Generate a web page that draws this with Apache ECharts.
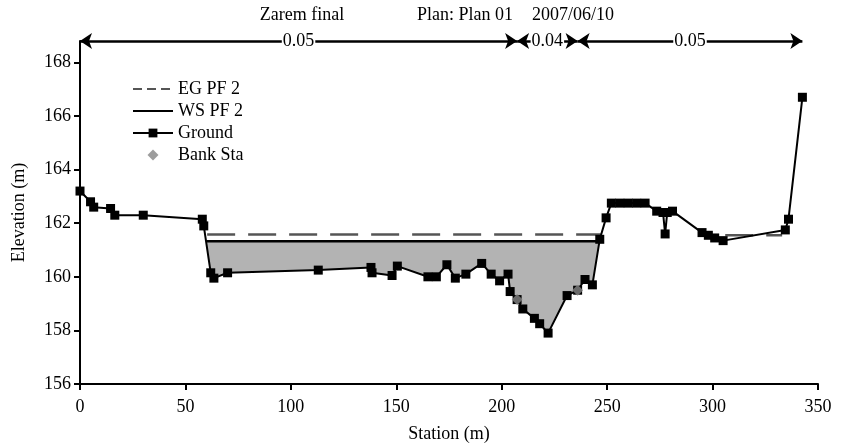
<!DOCTYPE html>
<html>
<head>
<meta charset="utf-8">
<script src="https://cdn.jsdelivr.net/npm/echarts@6/dist/echarts.min.js"></script>
<style>
html, body { margin: 0; padding: 0; background: #fff; }
#chart { width: 843px; height: 445px; }
</style>
</head>
<body>
<div id="chart"></div>
<script>
// ground profile (station m, elevation m)
var groundSta = [0, 5, 6.5, 14.5, 16.5, 30, 58, 58.7, 62, 63.5, 70, 113, 138, 138.5, 148, 150.5,
	165, 169, 174, 178, 183, 190.5, 195, 199, 203, 204, 207.3, 210, 215.5, 218, 222,
	231, 236, 239.5, 243, 246.5, 249.5, 252, 256, 260, 264, 268, 273.5, 276.5, 277.5, 278.5, 281,
	295, 298, 301, 305, 334.5, 336, 342.6];
var groundElev = [163.2, 162.8, 162.6, 162.55, 162.3, 162.3, 162.15, 161.9, 160.15, 159.95, 160.15, 160.25, 160.35, 160.15, 160.05, 160.4,
	160.0, 160.0, 160.45, 159.95, 160.1, 160.5, 160.1, 159.85, 160.1, 159.45, 159.15, 158.8, 158.45, 158.25, 157.9,
	159.3, 159.5, 159.9, 159.7, 161.4, 162.2, 162.75, 162.75, 162.75, 162.75, 162.75, 162.45, 162.4, 161.6, 162.4, 162.45,
	161.65, 161.55, 161.45, 161.35, 161.75, 162.15, 166.7];
// bank stations
var bankSta = [207.3, 236];
var bankElev = [159.15, 159.5];
// water surface / energy grade
var wsElev = 161.33;
var wsSta = [59.8, 246.3];
var egElev = 161.58;
var egSta = [60.3, 247];
var egSta2 = [306, 333];
var egElev2 = 161.55;
// manning's n
var nSta = [0, 207.3, 236, 342.6];
var nValues = ['0.05', '0.04', '0.05'];
var nElev = 168.8;
// axes
var xMin = 0, xMax = 350, xStep = 50;
var yMin = 156, yMax = 168.8, yStep = 2;

var FONT = 'Liberation Serif';

function pairs(a, b) {
	var out = [];
	for (var i = 0; i < a.length; i++) out.push([a[i], b[i]]);
	return out;
}

var ground = pairs(groundSta, groundElev);

// polygon of the wetted area: ground clipped at the water surface
function wetPolygon(api) {
	var pts = [[wsSta[0], wsElev]];
	for (var i = 0; i < ground.length; i++) {
		var s = ground[i][0];
		if (s > wsSta[0] && s < wsSta[1]) pts.push([s, Math.min(ground[i][1], wsElev)]);
	}
	pts.push([wsSta[1], wsElev]);
	return pts.map(function(p) { return api.coord(p); });
}

var nLines = [];
var nLabels = [];
for (var i = 0; i < nValues.length; i++) {
	nLines.push({ coords: [[nSta[i], nElev], [nSta[i + 1], nElev]] });
	nLabels.push([(nSta[i] + nSta[i + 1]) / 2, nElev, nValues[i]]);
}

var txt = { fontFamily: FONT, fontSize: 18, color: '#000' };

var myChart = echarts.init(document.getElementById('chart'));
var option = {
	animation: false,
	backgroundColor: '#fff',
	title: [
		{ text: 'Zarem final', left: 297, top: 1, textAlign: 'center' },
		{ text: 'Plan: Plan 01', left: 460, top: 1, textAlign: 'center' },
		{ text: '2007/06/10', left: 568, top: 1, textAlign: 'center' }
	].map(function(t) {
		t.textStyle = { fontFamily: FONT, fontSize: 18, fontWeight: 'normal', color: '#000' };
		return t;
	}),
	legend: {
		orient: 'vertical',
		left: 127,
		top: 75,
		itemGap: 4,
		itemWidth: 40,
		itemHeight: 11,
		symbolKeepAspect: true,
		textStyle: txt,
		data: [
			{ name: 'EG PF 2', itemStyle: { opacity: 0 }, lineStyle: { type: [9, 5] } },
			{ name: 'WS PF 2', itemStyle: { opacity: 0 } },
			'Ground',
			{ name: 'Bank Sta', icon: 'path://M0,1L1,0L2,1L1,2Z' }
		]
	},
	grid: { left: 80, right: 25, top: 41, bottom: 61, outerBoundsMode: 'none' },
	xAxis: {
		type: 'value',
		min: xMin, max: xMax, interval: xStep,
		name: 'Station (m)',
		nameLocation: 'middle',
		nameGap: 41,
		nameTextStyle: txt,
		axisLine: { lineStyle: { color: '#000', width: 2 } },
		axisTick: { length: 6, lineStyle: { color: '#000', width: 2 } },
		axisLabel: { fontFamily: FONT, fontSize: 18, color: '#000', margin: 14 },
		splitLine: { show: false }
	},
	yAxis: {
		type: 'value',
		min: yMin, max: yMax, interval: yStep,
		name: 'Elevation (m)',
		nameLocation: 'middle',
		nameGap: 52,
		nameTextStyle: txt,
		axisLine: { lineStyle: { color: '#000', width: 2 } },
		axisTick: { length: 6, lineStyle: { color: '#000', width: 2 } },
		axisLabel: {
			fontFamily: FONT, fontSize: 18, color: '#000', margin: 9,
			showMaxLabel: false,
			formatter: function(v) { return v % 2 === 0 ? v : ''; }
		},
		splitLine: { show: false }
	},
	series: [
		{
			type: 'custom',
			name: 'wet',
			silent: true,
			z: 1,
			data: [[wsSta[0], wsElev]],
			renderItem: function(params, api) {
				return {
					type: 'polygon',
					shape: { points: wetPolygon(api) },
					style: { fill: '#b3b3b3', stroke: 'none' }
				};
			}
		},
		{
			name: 'EG PF 2',
			type: 'line',
			symbol: 'none',
			z: 2,
			color: '#555',
			lineStyle: { color: '#555', width: 2.5, type: [28, 13] },
			data: [[egSta[0], egElev], [egSta[1], egElev], null, [egSta2[0], egElev2], [egSta2[1], egElev2]]
		},
		{
			name: 'WS PF 2',
			type: 'line',
			symbol: 'none',
			z: 3,
			color: '#000',
			lineStyle: { color: '#000', width: 2.5 },
			data: [[wsSta[0], wsElev], [wsSta[1], wsElev]]
		},
		{
			name: 'Ground',
			type: 'line',
			symbol: 'rect',
			symbolSize: 9,
			showAllSymbol: true,
			z: 4,
			color: '#000',
			itemStyle: { color: '#000' },
			lineStyle: { color: '#000', width: 2 },
			data: ground
		},
		{
			name: 'Bank Sta',
			type: 'scatter',
			symbol: 'diamond',
			symbolSize: 11,
			z: 5,
			itemStyle: { color: '#858585' },
			data: pairs(bankSta, bankElev)
		},
		{
			type: 'lines',
			name: 'n',
			coordinateSystem: 'cartesian2d',
			clip: false,
			silent: true,
			z: 6,
			symbol: ['arrow', 'arrow'],
			symbolSize: 12,
			lineStyle: { color: '#000', width: 2.5, opacity: 1 },
			data: nLines
		},
		{
			type: 'scatter',
			name: 'nLabel',
			clip: false,
			silent: true,
			z: 7,
			symbolSize: 1,
			itemStyle: { color: '#fff', opacity: 1 },
			label: {
				show: true,
				position: 'inside',
				formatter: function(p) { return p.value[2]; },
				fontFamily: FONT, fontSize: 18, color: '#000',
				backgroundColor: '#fff',
				padding: [0, 1]
			},
			data: nLabels
		}
	]
};
myChart.setOption(option);
</script>
</body>
</html>
